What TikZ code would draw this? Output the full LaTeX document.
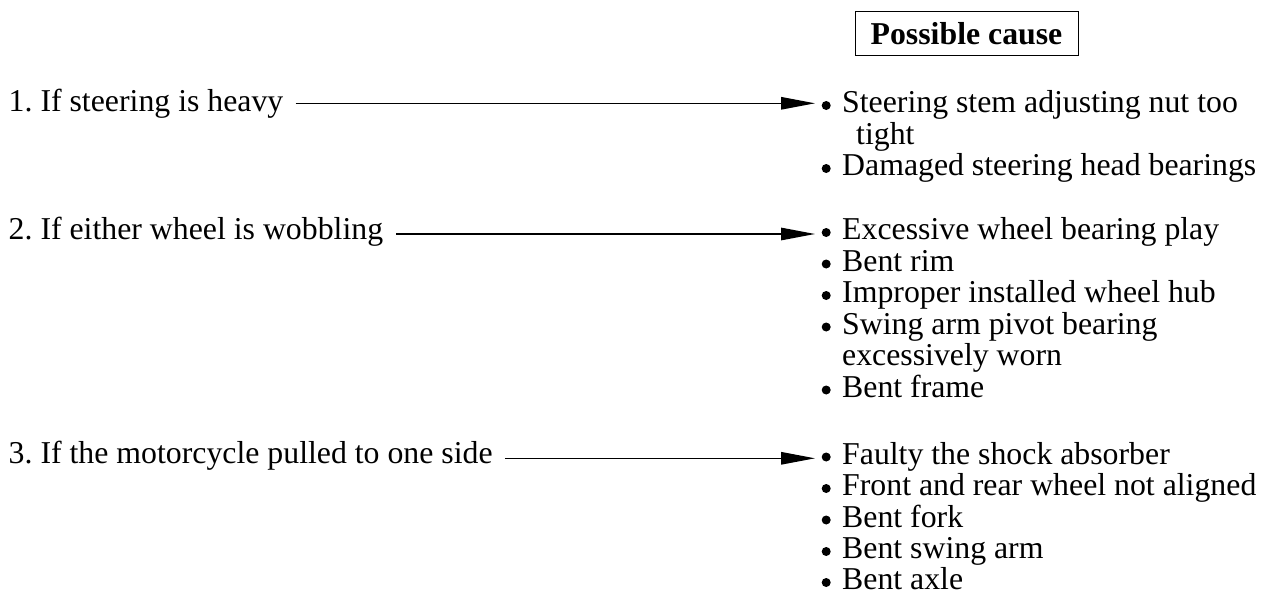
\documentclass[tikz,border=0pt]{standalone}
\usepackage{fontspec}
\setmainfont{Liberation Serif}
\usetikzlibrary{arrows.meta}
\frenchspacing
\begin{document}
\begin{tikzpicture}[x=1pt,y=-1pt,
  lbl/.style={anchor=base west,inner sep=0pt,font=\fontsize{31.8}{32}\selectfont},
  cause/.style={anchor=base west,inner sep=0pt,font=\fontsize{31.8}{32}\selectfont},
  hdr/.style={draw,line width=1pt,minimum width=223pt,minimum height=44pt,inner sep=0pt,
    font=\fontsize{31.8}{32}\selectfont\bfseries},
  arr/.style={line width=1.3pt,-{Triangle[length=34pt,width=12.5pt]},shorten >=5pt}]
\newcommand{\bul}{\makebox[22pt][l]{\hspace{1.5pt}\tikz[baseline=0pt]\fill (0pt,7pt) circle (4.5pt);}}
\useasboundingbox (0,0) rectangle (1272,594);
\node[hdr] (hd) at (966.5,34) {\raisebox{-1.5pt}{Possible cause}};
% left labels
\node[lbl] (l1) at (8.5,111.7) {1. If steering is heavy};
\node[lbl] (l2) at (8.5,239.3) {2. If either wheel is wobbling};
\node[lbl] (l3) at (8.5,463.5) {3. If the motorcycle pulled to one side};
% causes row 1
\node[cause] (c11) at (820,112.5) {\bul Steering stem adjusting nut too};
\node[cause] (c12) at (820,144) {\hspace*{36pt}tight};
\node[cause] (c13) at (820,175.5) {\bul Damaged steering head bearings};
% causes row 2
\node[cause] (c21) at (820,239.5) {\bul Excessive wheel bearing play};
\node[cause] (c22) at (820,271) {\bul Bent rim};
\node[cause] (c23) at (820,302.5) {\bul Improper installed wheel hub};
\node[cause] (c24) at (820,334) {\bul Swing arm pivot bearing};
\node[cause] (c25) at (820,365.5) {\hspace*{22pt}excessively worn};
\node[cause] (c26) at (820,397) {\bul Bent frame};
% causes row 3
\node[cause] (c31) at (820,464) {\bul Faulty the shock absorber};
\node[cause] (c32) at (820,495.5) {\bul Front and rear wheel not aligned};
\node[cause] (c33) at (820,527) {\bul Bent fork};
\node[cause] (c34) at (820,558.5) {\bul Bent swing arm};
\node[cause] (c35) at (820,589.5) {\bul Bent axle};
% connectors
\coordinate (s1) at ([xshift=12pt,yshift=8.4pt]l1.base east);
\coordinate (s2) at ([xshift=13pt,yshift=5.3pt]l2.base east);
\coordinate (s3) at ([xshift=12pt,yshift=5.2pt]l3.base east);
\draw[arr] (s1) -- (s1 -| c11.west);
\draw[arr] (s2) -- (s2 -| c21.west);
\draw[arr] (s3) -- (s3 -| c31.west);
\end{tikzpicture}
\end{document}
